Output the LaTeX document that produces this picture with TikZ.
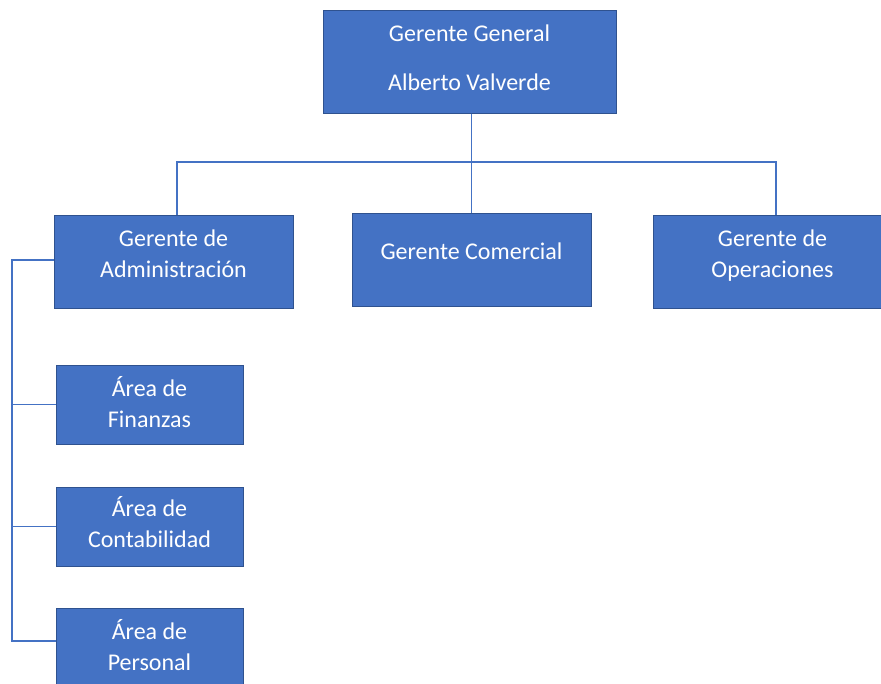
\documentclass[tikz,border=0pt]{standalone}
\usepackage{fontspec}
\setmainfont{Carlito}
\usepackage{tikz}

\definecolor{cajaazul}{HTML}{4472C4}
\definecolor{bordeazul}{HTML}{2F528F}

\tikzset{
  caja/.style={rectangle,draw=bordeazul,fill=cajaazul,text=white,
    line width=1pt,align=center,inner sep=0pt,
    font=\fontsize{24}{31}\selectfont},
  gerente/.style={caja,minimum width=239pt,minimum height=93pt,text depth=16pt},
  area/.style={caja,minimum width=187pt,minimum height=79pt,text depth=5pt},
  linea/.style={draw=cajaazul,line width=1.2pt}
}

\begin{document}
\begin{tikzpicture}[x=1pt,y=-1pt]
\useasboundingbox (0,0) rectangle (881,683);
\node[caja,minimum width=293pt,minimum height=103pt,text depth=8pt] (gg) at (469.5,61.5)
  {Gerente General\\[18pt]Alberto Valverde};
\node[gerente] (adm) at (173.5,261.5) {Gerente de\\Administración};
\node[gerente] (com) at (471.5,259.5) {Gerente Comercial};
\node[gerente] (ope) at (772.5,261.5) {Gerente de\\Operaciones};
\node[area] (fin) at (149.5,404.5) {Área de\\Finanzas};
\node[area,text depth=10pt] (con) at (149.5,526.5) {Área de\\Contabilidad};
\node[area] (per) at (149.5,647.5) {Área de\\Personal};
\coordinate (bi) at (177,162);
\coordinate (bd) at (776,162);
\coordinate (ba) at (12,260);
\coordinate (bp) at (12,641);
\draw[linea] (gg.south -| com.north) -- (com.north);
\draw[linea] (adm.north -| bi) -- (bi) -- (bd) -- (ope.north -| bd);
\draw[linea] (adm.west |- ba) -- (ba) -- (bp) -- (per.west |- bp);
\draw[linea] (ba |- fin.west) -- (fin.west);
\draw[linea] (ba |- con.west) -- (con.west);
\end{tikzpicture}
\end{document}
